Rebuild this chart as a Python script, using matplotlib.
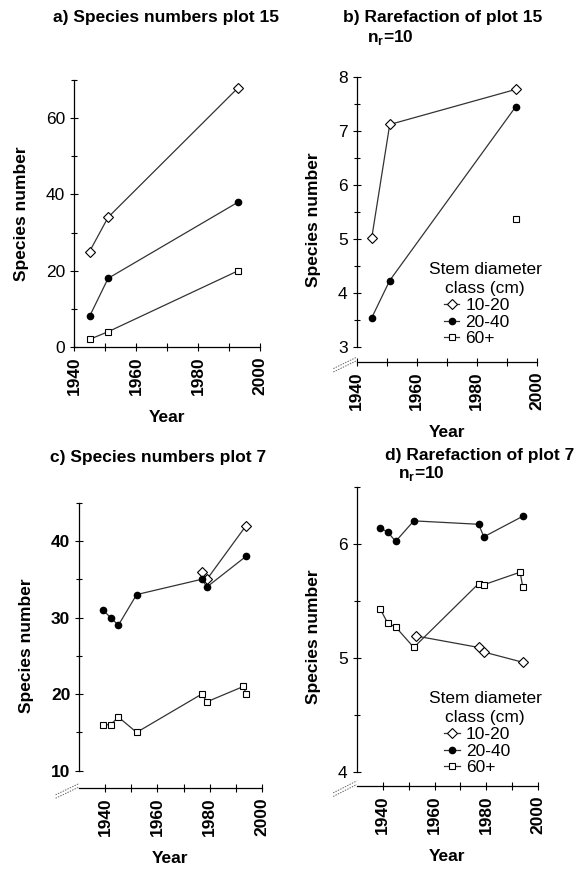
import numpy as np
import matplotlib
matplotlib.use('Agg')
import matplotlib.pyplot as plt
from matplotlib.ticker import MultipleLocator

plt.rcParams['font.family'] = ['Liberation Sans', 'DejaVu Sans']

# plot 15, species numbers
years_a = [1945, 1951, 1993]
a_small = [25, 34, 68]
a_mid = [8, 18, 38]
a_large = [2, 4, 20]

# plot 15, rarefaction (n_r = 10)
years_b = [1945, 1951, 1993]
b_small = [5.02, 7.12, 7.77]
b_mid = [3.54, 4.23, 7.45]
years_b_large = [1993]
b_large = [5.37]

# plot 7, species numbers
years_c_small = [1977, 1979, 1994]
c_small = [36, 35, 42]
years_c_mid = [1939, 1942, 1945, 1952, 1977, 1979, 1994]
c_mid = [31, 30, 29, 33, 35, 34, 38]
years_c_large = [1939, 1942, 1945, 1952, 1977, 1979, 1993, 1994]
c_large = [16, 16, 17, 15, 20, 19, 21, 20]

# plot 7, rarefaction (n_r = 10)
years_d_small = [1953, 1977, 1979, 1994]
d_small = [5.19, 5.09, 5.05, 4.96]
years_d_mid = [1939, 1942, 1945, 1952, 1977, 1979, 1994]
d_mid = [6.14, 6.10, 6.02, 6.20, 6.17, 6.06, 6.24]
years_d_large = [1939, 1942, 1945, 1952, 1977, 1979, 1993, 1994]
d_large = [5.43, 5.30, 5.27, 5.09, 5.65, 5.64, 5.75, 5.62]

classes = ['10-20', '20-40', '60+']
styles = [dict(marker='D', ms=5.5, mfc='white', mec='black', mew=0.8),
          dict(marker='o', ms=4.5, mfc='black', mec='black'),
          dict(marker='s', ms=5, mfc='white', mec='black', mew=0.8)]
line_kw = dict(color='#333333', lw=0.9)

fig = plt.figure(figsize=(5.81, 8.69), dpi=100)


def style_axes(ax, xlim, ylim, ybounds, ymajor, yminor, xticks, ybold=False):
    ax.set_xlim(*xlim)
    ax.set_ylim(*ylim)
    for s in ['top', 'right']:
        ax.spines[s].set_visible(False)
    ax.spines['left'].set_bounds(*ybounds)
    ax.spines['bottom'].set_bounds(xlim[0], xticks[-1])
    ax.yaxis.set_major_locator(MultipleLocator(ymajor))
    ax.yaxis.set_minor_locator(MultipleLocator(yminor))
    ax.set_xticks(xticks)
    ax.set_xticks(np.arange(xticks[0], xticks[-1] + 1, 10), minor=True)
    ax.set_xticklabels([str(t) for t in xticks], rotation=90, fontsize=12.5,
                       fontweight='bold')
    for lbl in ax.get_yticklabels():
        lbl.set_fontsize(12.5)
        if ybold:
            lbl.set_fontweight('bold')
    ax.tick_params(which='both', direction='inout', length=6, width=0.8)
    ax.tick_params(axis='y', which='minor', length=5)
    ax.set_ylabel('Species number', fontsize=12.5, fontweight='bold', labelpad=12)
    ax.set_xlabel('Year', fontsize=12.5, fontweight='bold', labelpad=11)
    for sp in ax.spines.values():
        sp.set_linewidth(0.9)


def axis_break(ax):
    # two small dotted slashes at the lower-left corner
    for dy in (0.0, 0.012):
        ax.plot([-0.13, -0.0], [-0.035 + dy, 0.005 + dy], transform=ax.transAxes,
                clip_on=False, color='#666666', lw=0.7, ls=(0, (1.5, 1.2)))


def legend(ax, x, y_px):
    # y_px: height of the "Stem diameter" line above the x axis, in pixels
    h = ax.get_position().height * fig.get_figheight() * fig.dpi
    w = ax.get_position().width * fig.get_figwidth() * fig.dpi
    y = y_px / h
    ax.text(x, y, 'Stem diameter', transform=ax.transAxes,
            fontsize=12.5, ha='left', va='center')
    ax.text(x + 16 / w, y - 19 / h, 'class (cm)', transform=ax.transAxes,
            fontsize=12.5, ha='left', va='center')
    handles = [plt.Line2D([], [], **line_kw, **st) for st in styles]
    ax.legend(handles, classes, loc='upper left',
              bbox_to_anchor=(x + 15 / w, y - 29 / h),
              frameon=False, fontsize=12.5, handlelength=0.9, handletextpad=0.35,
              labelspacing=0.08, borderpad=0, borderaxespad=0)


# a) species numbers plot 15
ax = fig.add_axes([0.1274, 0.6007, 0.3201, 0.3073])
ax.plot(years_a, a_small, **line_kw, **styles[0])
ax.plot(years_a, a_mid, **line_kw, **styles[1])
ax.plot(years_a, a_large, **line_kw, **styles[2])
style_axes(ax, (1940, 2000), (0, 70), (0, 70), 20, 10, [1940, 1960, 1980, 2000])
fig.text(0.091, 0.98, 'a) Species numbers plot 15', fontsize=12.5, fontweight='bold',
         va='center')

# b) rarefaction plot 15
ax = fig.add_axes([0.614, 0.5834, 0.3098, 0.328])
ax.plot(years_b, b_small, **line_kw, **styles[0])
ax.plot(years_b, b_mid, **line_kw, **styles[1])
ax.plot(years_b_large, b_large, **line_kw, **styles[2])
style_axes(ax, (1940, 2000), (2.72, 8), (3, 8), 1, 0.5, [1940, 1960, 1980, 2000])
axis_break(ax)
legend(ax, 0.40, 93)
fig.text(0.59, 0.98, 'b) Rarefaction of plot 15', fontsize=12.5, fontweight='bold',
         va='center')
fig.text(0.632, 0.957, r'n$_\mathregular{r}$=10', fontsize=12.5, fontweight='bold',
         va='center')

# c) species numbers plot 7
ax = fig.add_axes([0.1365, 0.0929, 0.3139, 0.3286])
ax.plot(years_c_small, c_small, **line_kw, **styles[0])
ax.plot(years_c_mid, c_mid, **line_kw, **styles[1])
ax.plot(years_c_large, c_large, **line_kw, **styles[2])
style_axes(ax, (1930, 2000), (7.7, 45), (10, 45), 10, 5, [1940, 1960, 1980, 2000],
           ybold=True)
ax.set_xticks(np.arange(1940, 2001, 10), minor=True)
axis_break(ax)
fig.text(0.086, 0.473, 'c) Species numbers plot 7', fontsize=12.5, fontweight='bold',
         va='center')

# d) rarefaction plot 7
ax = fig.add_axes([0.614, 0.0955, 0.3125, 0.3445])
ax.plot(years_d_small, d_small, **line_kw, **styles[0])
ax.plot(years_d_mid, d_mid, **line_kw, **styles[1])
ax.plot(years_d_large, d_large, **line_kw, **styles[2])
style_axes(ax, (1930, 2000), (3.875, 6.5), (4, 6.5), 1, 0.5, [1940, 1960, 1980, 2000])
ax.set_xticks(np.arange(1940, 2001, 10), minor=True)
axis_break(ax)
legend(ax, 0.40, 88)
fig.text(0.663, 0.476, 'd) Rarefaction of plot 7', fontsize=12.5, fontweight='bold',
         va='center')
fig.text(0.685, 0.455, r'n$_\mathregular{r}$=10', fontsize=12.5, fontweight='bold',
         va='center')

fig.savefig('out.png', dpi=100)
